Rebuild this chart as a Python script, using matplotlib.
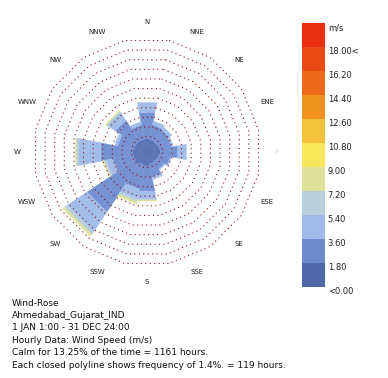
import numpy as np
import matplotlib
matplotlib.use("Agg")
import matplotlib.pyplot as plt

directions = ["N", "NNE", "NE", "ENE", "E", "ESE", "SE", "SSE",
              "S", "SSW", "SW", "WSW", "W", "WNW", "NW", "NNW"]

# frequency (%) per speed bin, bins of 1.8 m/s starting at 0
bin_0_18 = [1.1, 1.0, 0.9, 1.0, 1.1, 0.9, 0.8, 0.9, 1.2, 1.1, 1.3, 1.2, 1.2, 1.1, 1.1, 1.0]
bin_18_36 = [3.8, 2.15, 2.1, 1.75, 2.5, 1.7, 1.35, 1.95, 3.65, 3.5, 8.15, 2.95, 4.65, 2.35, 3.5, 2.15]
bin_36_54 = [1.45, 0.55, 0.45, 0.3, 1.3, 0.15, 0.15, 0.3, 1.15, 1.4, 3.45, 1.0, 3.3, 0.45, 1.4, 0.45]
bin_54_72 = [0, 0, 0, 0, 0, 0, 0, 0.07, 0.15, 0.45, 0.45, 0.3, 0.3, 0, 0.15, 0]
bin_72_90 = [0, 0, 0, 0, 0, 0, 0, 0, 0.15, 0.3, 0.3, 0.15, 0.15, 0, 0.15, 0]
bins = [bin_0_18, bin_18_36, bin_36_54, bin_54_72, bin_72_90]

legend_labels = ["<0.00", "1.80", "3.60", "5.40", "7.20", "9.00", "10.80",
                 "12.60", "14.40", "16.20", "18.00<", "m/s"]
legend_colors = ["#4f68a9", "#6d8bcb", "#a0bbea", "#b9cfdc", "#dfe39a", "#f7e65a",
                 "#f5c33a", "#ef921f", "#eb6b1a", "#e94a15", "#e8300f"]
bar_colors = ["#5a75b6", "#7592d2", "#a3bdeb", "#b9cfdc", "#dfe39a"]

ring_step = 1.4
n_rings = 11
calm_r = 0.84  # radius of the calm circle in the middle

text_lines = ["Wind-Rose",
              "Ahmedabad_Gujarat_IND",
              "1 JAN 1:00 - 31 DEC 24:00",
              "Hourly Data: Wind Speed (m/s)",
              "Calm for 13.25% of the time = 1161 hours.",
              "Each closed polyline shows frequency of 1.4%. = 119 hours."]

W, H = 388, 378
fig = plt.figure(figsize=(W / 100, H / 100), dpi=100)

cx, cy, R = 147, 152, 115
ax = fig.add_axes([(cx - R) / W, (H - cy - R) / H, 2 * R / W, 2 * R / H], projection="polar")
ax.set_theta_zero_location("N")
ax.set_theta_direction(-1)
rmax = R / 7 - calm_r
ax.set_ylim(-calm_r, rmax)
ax.set_axis_off()

theta = np.deg2rad(np.arange(16) * 22.5)
half = np.deg2rad(11.25)

# stacked wedges with straight outer edges
top = np.zeros(16)
for i, vals in enumerate(bins):
    for j in range(16):
        if vals[j] <= 0:
            continue
        r0 = top[j]
        r1 = top[j] + vals[j]
        ax.fill([theta[j] - half, theta[j] + half, theta[j] + half, theta[j] - half],
                [r0, r0, r1, r1], color=bar_colors[i], lw=0.3, ec=bar_colors[i], zorder=2)
        top[j] = r1

# calm circle
tt = np.linspace(0, 2 * np.pi, 60)
ax.fill(np.r_[tt, tt[::-1]], np.r_[np.full(60, 0.05), np.full(60, -calm_r)],
        color=bar_colors[0], lw=0, zorder=2)

# closed polylines (16-gons)
poly_t = np.r_[theta + half, theta[0] + half]
for k in range(1, n_rings + 1):
    ax.plot(poly_t, np.full(17, k * ring_step), color="#8e1616", lw=0.8,
            ls=(0, (1, 3)), zorder=3)

# small ticks
for d in [14, 6]:
    ax.plot([theta[d], theta[d]], [15.7, 16.6], color="#7a1515", lw=0.8, zorder=3)

label_r = 130 / 7 - calm_r
for j, name in enumerate(directions):
    ax.text(theta[j], label_r, name, ha="center", va="center", fontsize=5,
            color="#dddddd" if name == "E" else "#222222")

# legend colour bar
lax = fig.add_axes([302 / W, (H - 287) / H, 23 / W, 264 / H])
lax.bar(np.zeros(11), np.ones(11), bottom=np.arange(11), width=1,
        color=legend_colors, lw=0)
lax.set_xlim(-0.5, 0.5)
lax.set_ylim(0, 11)
lax.set_axis_off()
for i, lab in enumerate(legend_labels):
    lax.text(0.62, i - 0.2, lab, ha="left", va="center", fontsize=6, color="#222222")

for i, line in enumerate(text_lines):
    fig.text(12 / W, 1 - (303 + i * 12.4) / H, line, ha="left", va="center",
             fontsize=6.45, color="#111111")

fig.savefig("out.png", dpi=100)
